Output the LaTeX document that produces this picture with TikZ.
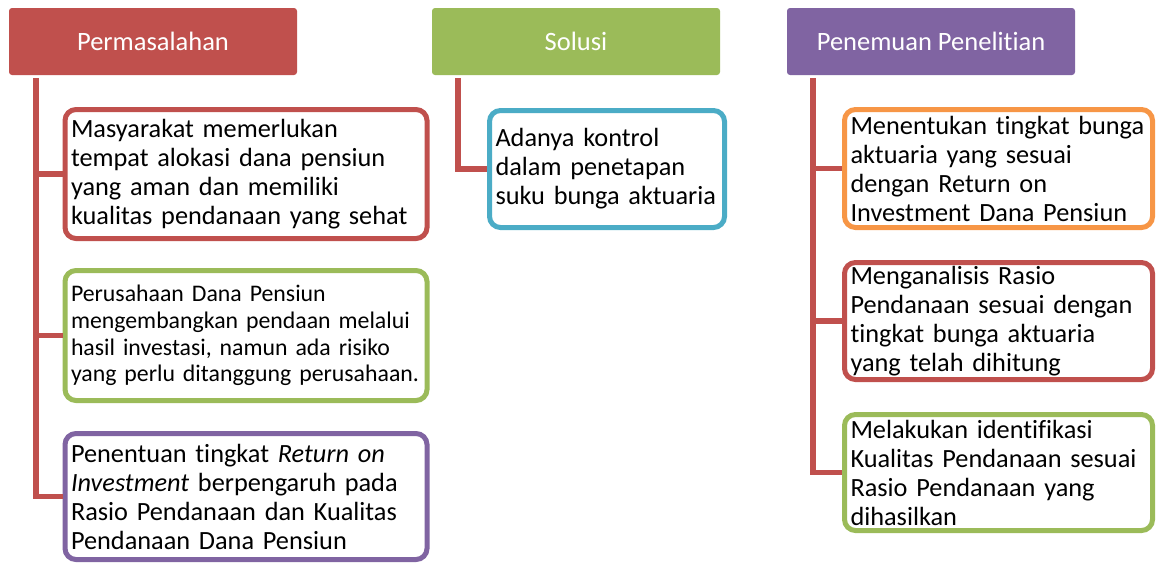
\documentclass[tikz,border=0pt]{standalone}
\usepackage{fontspec}
\setmainfont{Carlito}[RawFeature={-liga;-clig;-dlig}]
\usetikzlibrary{calc}
\definecolor{cred}{HTML}{C0504D}
\definecolor{cgreen}{HTML}{9BBB59}
\definecolor{cpurple}{HTML}{8064A2}
\definecolor{cblue}{HTML}{4BACC6}
\definecolor{corange}{HTML}{F79646}
\tikzset{
  head/.style={rectangle, rounded corners=3pt, fill=#1, draw=none, minimum width=288pt, minimum height=67pt, text=white, font=\fontsize{26.5}{29}\selectfont, inner sep=0pt},
  child/.style={rectangle, rounded corners=11pt, draw=#1, line width=5pt, fill=white, inner xsep=6pt, inner ysep=0pt, align=left, font=\fontsize{26.3}{29}\selectfont, text=black},
  conn/.style={draw=cred, line width=5.5pt},
}
\begin{document}
\begin{tikzpicture}[x=1pt,y=-1pt]
\useasboundingbox (0,0) rectangle (1156,563);
% headers
\node[head=cred] (h1) at (153,41.5) {Permasalahan};
\node[head=cgreen] (h2) at (576,41.5) {Solusi};
\node[head=cpurple] (h3) at (931,41.5) {Penemuan Penelitian};
% connector anchors
\coordinate (t1) at ($(h1.south west)+(27,3)$);
\coordinate (t2) at ($(h2.south west)+(26,3)$);
\coordinate (t3) at ($(h3.south west)+(26,3)$);
% left column
\node[child=cred, minimum width=362pt, minimum height=129pt, text width=350pt] (a1) at (246,174)
  {Masyarakat memerlukan\\tempat alokasi dana pensiun\\yang aman dan memiliki\\kualitas pendanaan yang sehat};
\node[child=cgreen, minimum width=362pt, minimum height=130pt, text width=350pt, font=\fontsize{23.8}{26.7}\selectfont] (a2) at (246,335.5)
  {Perusahaan Dana Pensiun\\mengembangkan pendaan melalui\\hasil investasi, namun ada risiko\\yang perlu ditanggung perusahaan.};
\node[child=cpurple, minimum width=362pt, minimum height=126pt, text width=350pt] (a3) at (246,496.5)
  {Penentuan tingkat \textit{Return on}\\\textit{Investment} berpengaruh pada\\Rasio Pendanaan dan Kualitas\\Pendanaan Dana Pensiun};
% middle
\node[child=cblue, minimum width=235pt, minimum height=117pt, text width=223pt] (b1) at (607,169)
  {Adanya kontrol\\dalam penetapan\\suku bunga aktuaria};
% right column
\node[child=corange, minimum width=308pt, minimum height=118pt, text width=296pt] (c1) at (998.5,168.5)
  {Menentukan tingkat bunga\\aktuaria yang sesuai\\dengan Return on\\Investment Dana Pensiun};
\node[child=cred, minimum width=308pt, minimum height=117pt, text width=296pt] (c2) at (998.5,321)
  {Menganalisis Rasio\\Pendanaan sesuai dengan\\tingkat bunga aktuaria\\yang telah dihitung};
\node[child=cgreen, minimum width=308pt, minimum height=116pt, text width=296pt] (c3) at (998.5,472.5)
  {Melakukan identifikasi\\Kualitas Pendanaan sesuai\\Rasio Pendanaan yang\\dihasilkan};
% connectors
\draw[conn] (t1) |- (a1.west);
\draw[conn] (t1) |- (a2.west);
\draw[conn] (t1) |- (a3.west);
\draw[conn] (t2) |- (b1.west);
\draw[conn] (t3) |- (c1.west);
\draw[conn] (t3) |- (c2.west);
\draw[conn] (t3) |- (c3.west);
\end{tikzpicture}
\end{document}
